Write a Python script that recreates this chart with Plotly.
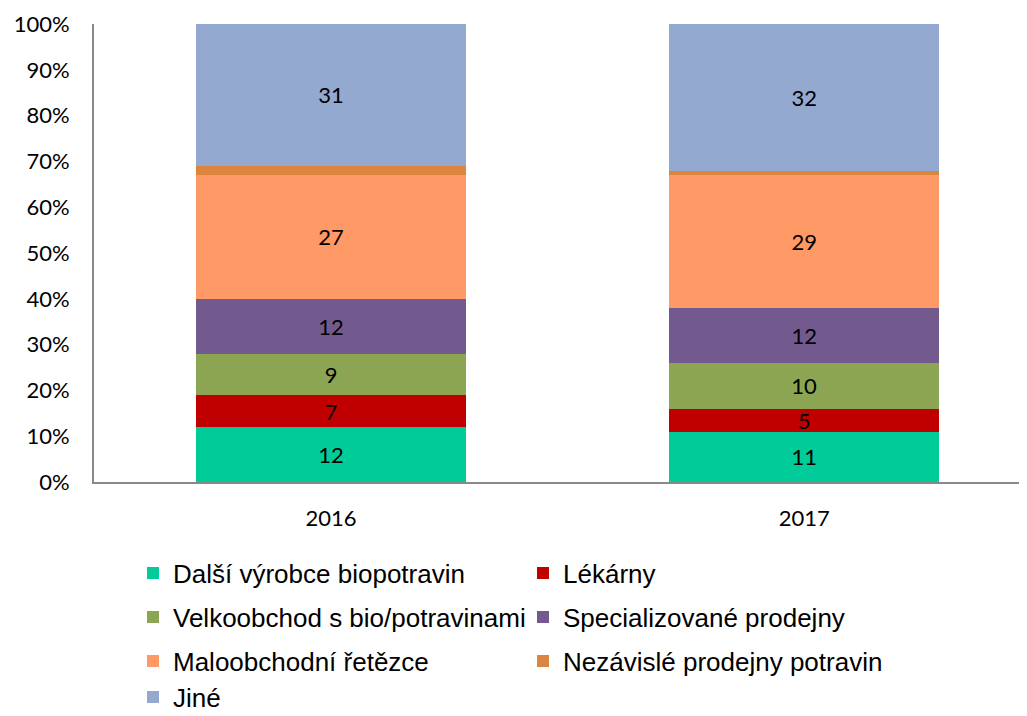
import plotly.graph_objects as go

years = ["2016", "2017"]
series_names = [
    "Další výrobce biopotravin",
    "Lékárny",
    "Velkoobchod s bio/potravinami",
    "Specializované prodejny",
    "Maloobchodní řetězce",
    "Nezávislé prodejny potravin",
    "Jiné",
]
dalsi = [12, 11]
lekarny = [7, 5]
velkoobchod = [9, 10]
specializovane = [12, 12]
maloobchodni = [27, 29]
nezavisle = [2, 1]
jine = [31, 32]

values = [dalsi, lekarny, velkoobchod, specializovane, maloobchodni, nezavisle, jine]
colors = ["#00CC99", "#C00000", "#8BA552", "#735A8E", "#FF9966", "#DD843E", "#94A9D0"]
show_labels = [True, True, True, True, True, False, True]
legend_ids = ["legend", "legend", "legend2", "legend2", "legend3", "legend3", "legend4"]

fig = go.Figure()
for name, vals, col, lab, lg in zip(series_names, values, colors, show_labels, legend_ids):
    fig.add_trace(go.Bar(
        x=years, y=vals, name=name,
        marker=dict(color=col, line=dict(width=0)),
        width=0.571,
        text=[str(v) for v in vals] if lab else None,
        textposition="inside" if lab else "none",
        insidetextanchor="middle",
        textangle=0,
        constraintext="none",
        textfont=dict(family="Lato", size=22, color="black"),
        legend=lg,
        cliponaxis=False,
    ))

# page has an 8px body margin; figure coordinates are page coordinates minus OFF
OFF = 8
W, H = 1027 - OFF, 716 - OFF
leg_common = dict(
    orientation="h", xanchor="left", yanchor="middle",
    xref="container", yref="container",
    x=(133 - OFF) / W, font=dict(family="Liberation Sans", size=26, color="black"),
    entrywidth=345, entrywidthmode="pixels", bgcolor="rgba(0,0,0,0)",
    traceorder="normal",
)
rows_px = [573, 617, 661, 697]
def cy(p):
    return 1 - (p - OFF) / H

fig.update_layout(
    width=W, height=H,
    margin=dict(l=94 - OFF, r=0, t=24 - OFF, b=H - (482 - OFF), autoexpand=False),
    barmode="stack",
    plot_bgcolor="white", paper_bgcolor="white",
    showlegend=True,
    legend=dict(leg_common, y=cy(rows_px[0])),
    legend2=dict(leg_common, y=cy(rows_px[1])),
    legend3=dict(leg_common, y=cy(rows_px[2])),
    legend4=dict(leg_common, y=cy(rows_px[3])),
    xaxis=dict(
        type="category", range=[-0.501, 1.471],
        showline=True, linecolor="#898989", linewidth=2,
        ticks="", showgrid=False, automargin=False,
        ticklabelstandoff=16,
        tickfont=dict(family="Lato", size=22, color="black"),
    ),
    yaxis=dict(
        range=[0, 100], tickvals=list(range(0, 101, 10)),
        ticktext=[f"{v}%" for v in range(0, 101, 10)],
        showline=True, linecolor="#898989", linewidth=2,
        showgrid=False, zeroline=False, ticks="", automargin=False,
        ticklabelstandoff=18,
        tickfont=dict(family="Lato", size=22, color="black"),
    ),
)

fig.write_html("out.html")
